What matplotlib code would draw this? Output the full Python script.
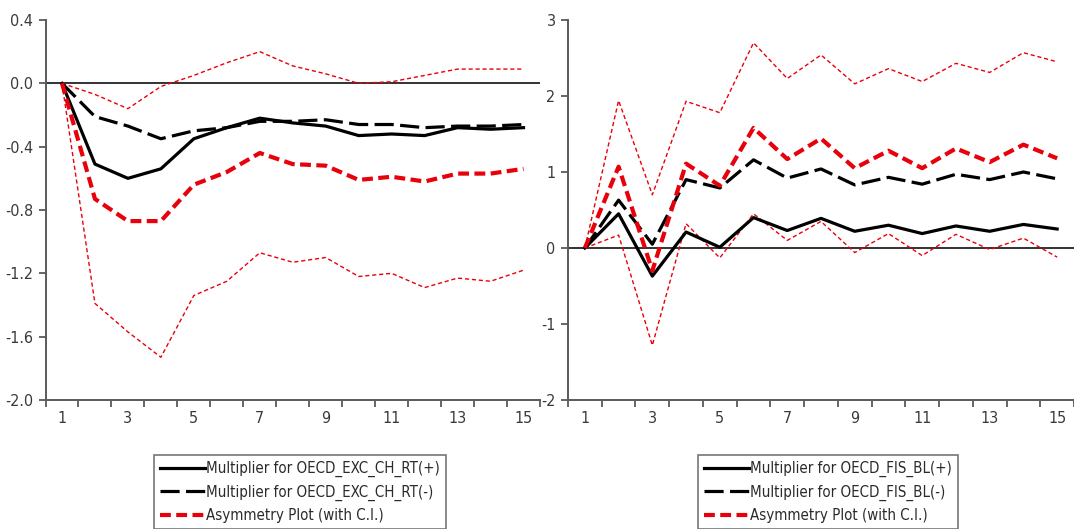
"""
Cumulative dynamic multipliers from the NARDL fits, two panels
"""

import matplotlib
matplotlib.use("Agg")
import matplotlib.pyplot as plt
from matplotlib.ticker import FixedLocator, NullFormatter

plt.rcParams['font.family'] = ['DejaVu Sans']
plt.rcParams['font.stretch'] = 'condensed'

periods = list(range(1, 16))

# exchange rate panel
exc_pos = [0, -0.51, -0.60, -0.54, -0.35, -0.28, -0.22, -0.25, -0.27, -0.33, -0.32, -0.33, -0.28, -0.29, -0.28]
exc_neg = [0, -0.21, -0.27, -0.35, -0.30, -0.28, -0.24, -0.24, -0.23, -0.26, -0.26, -0.28, -0.27, -0.27, -0.26]
exc_asym = [0, -0.73, -0.87, -0.87, -0.64, -0.56, -0.44, -0.51, -0.52, -0.61, -0.59, -0.62, -0.57, -0.57, -0.54]
exc_upper = [0, -0.07, -0.16, -0.02, 0.05, 0.13, 0.20, 0.11, 0.06, 0.00, 0.01, 0.05, 0.09, 0.09, 0.09]
exc_lower = [0, -1.39, -1.57, -1.73, -1.34, -1.25, -1.07, -1.13, -1.10, -1.22, -1.20, -1.29, -1.23, -1.25, -1.18]

# fiscal balance panel
fis_pos = [0, 0.45, -0.37, 0.21, 0.01, 0.40, 0.23, 0.39, 0.22, 0.30, 0.19, 0.29, 0.22, 0.31, 0.25]
fis_neg = [0, 0.63, 0.05, 0.90, 0.79, 1.16, 0.92, 1.04, 0.83, 0.93, 0.84, 0.97, 0.90, 1.00, 0.91]
fis_asym = [0, 1.07, -0.30, 1.11, 0.82, 1.58, 1.17, 1.44, 1.05, 1.28, 1.05, 1.31, 1.13, 1.36, 1.18]
fis_upper = [0, 1.94, 0.70, 1.93, 1.78, 2.70, 2.23, 2.54, 2.16, 2.36, 2.19, 2.43, 2.31, 2.57, 2.45]
fis_lower = [0, 0.17, -1.28, 0.32, -0.13, 0.45, 0.10, 0.35, -0.06, 0.19, -0.10, 0.18, -0.02, 0.13, -0.12]

AXIS_GREY = '#5a5a5a'
RED = '#e8000b'


def draw_panel(ax, pos, neg, asym, upper, lower, name, yticks, ylabels, ylim):
    ax.axhline(0, color='#222222', lw=1.3, zorder=1)
    ax.plot(periods, upper, color=RED, lw=1.0, dashes=(3, 2), zorder=2)
    ax.plot(periods, lower, color=RED, lw=1.0, dashes=(3, 2), zorder=2)
    ax.plot(periods, pos, color='black', lw=2.3, zorder=3,
            label='Multiplier for %s(+)' % name)
    ax.plot(periods, neg, color='black', lw=2.3, dashes=(6, 2), zorder=3,
            label='Multiplier for %s(-)' % name)
    ax.plot(periods, asym, color=RED, lw=3.0, dashes=(2.6, 1.3), zorder=4,
            label='Asymmetry Plot (with C.I.)')

    ax.set_xlim(0.5, 15.5)
    ax.set_ylim(*ylim)
    ax.set_yticks(yticks)
    ax.set_yticklabels(ylabels)

    # tick marks sit between periods, labels on odd periods
    ax.xaxis.set_major_locator(FixedLocator([p + 0.5 for p in range(0, 16)]))
    ax.xaxis.set_major_formatter(NullFormatter())
    ax.xaxis.set_minor_locator(FixedLocator(list(range(1, 16, 2))))
    ax.set_xticklabels([str(p) for p in range(1, 16, 2)], minor=True)
    ax.tick_params(axis='x', which='major', length=5, width=1.3, color=AXIS_GREY)
    ax.tick_params(axis='x', which='minor', length=0, pad=8,
                   labelsize=11.5, labelcolor='#3a3a3a')
    ax.tick_params(axis='y', length=5, width=1.3, color=AXIS_GREY, pad=4,
                   labelsize=11.5, labelcolor='#3a3a3a')

    for side in ['top', 'right']:
        ax.spines[side].set_visible(False)
    for side in ['left', 'bottom']:
        ax.spines[side].set_color(AXIS_GREY)
        ax.spines[side].set_linewidth(1.4)


fig = plt.figure(figsize=(10.74, 5.29), dpi=100)
ax1 = fig.add_axes([45.5 / 1074, 1 - 400 / 529, (540 - 45.5) / 1074, 380 / 529])
ax2 = fig.add_axes([568 / 1074, 1 - 400 / 529, (1074 - 568) / 1074, 380 / 529])

draw_panel(ax1, exc_pos, exc_neg, exc_asym, exc_upper, exc_lower, 'OECD_EXC_CH_RT',
           [0.4, 0.0, -0.4, -0.8, -1.2, -1.6, -2.0],
           ['0.4', '0.0', '-0.4', '-0.8', '-1.2', '-1.6', '-2.0'], (-2.0, 0.4))
draw_panel(ax2, fis_pos, fis_neg, fis_asym, fis_upper, fis_lower, 'OECD_FIS_BL',
           [3, 2, 1, 0, -1, -2], ['3', '2', '1', '0', '-1', '-2'], (-2, 3))

for ax, x0 in [(ax1, 154 / 1074), (ax2, 698 / 1074)]:
    leg = ax.legend(loc='upper left', bbox_to_anchor=(x0, 1 - 455 / 529),
                    bbox_transform=fig.transFigure, fontsize=10.8,
                    frameon=True, fancybox=False, handlelength=3.0,
                    handletextpad=0.1, borderpad=0.4, labelspacing=0.5,
                    borderaxespad=0)
    leg.get_frame().set_edgecolor('#555555')
    leg.get_frame().set_linewidth(1.2)
    for t in leg.get_texts():
        t.set_color('#2a2a2a')

fig.savefig('out.png', dpi=100)
